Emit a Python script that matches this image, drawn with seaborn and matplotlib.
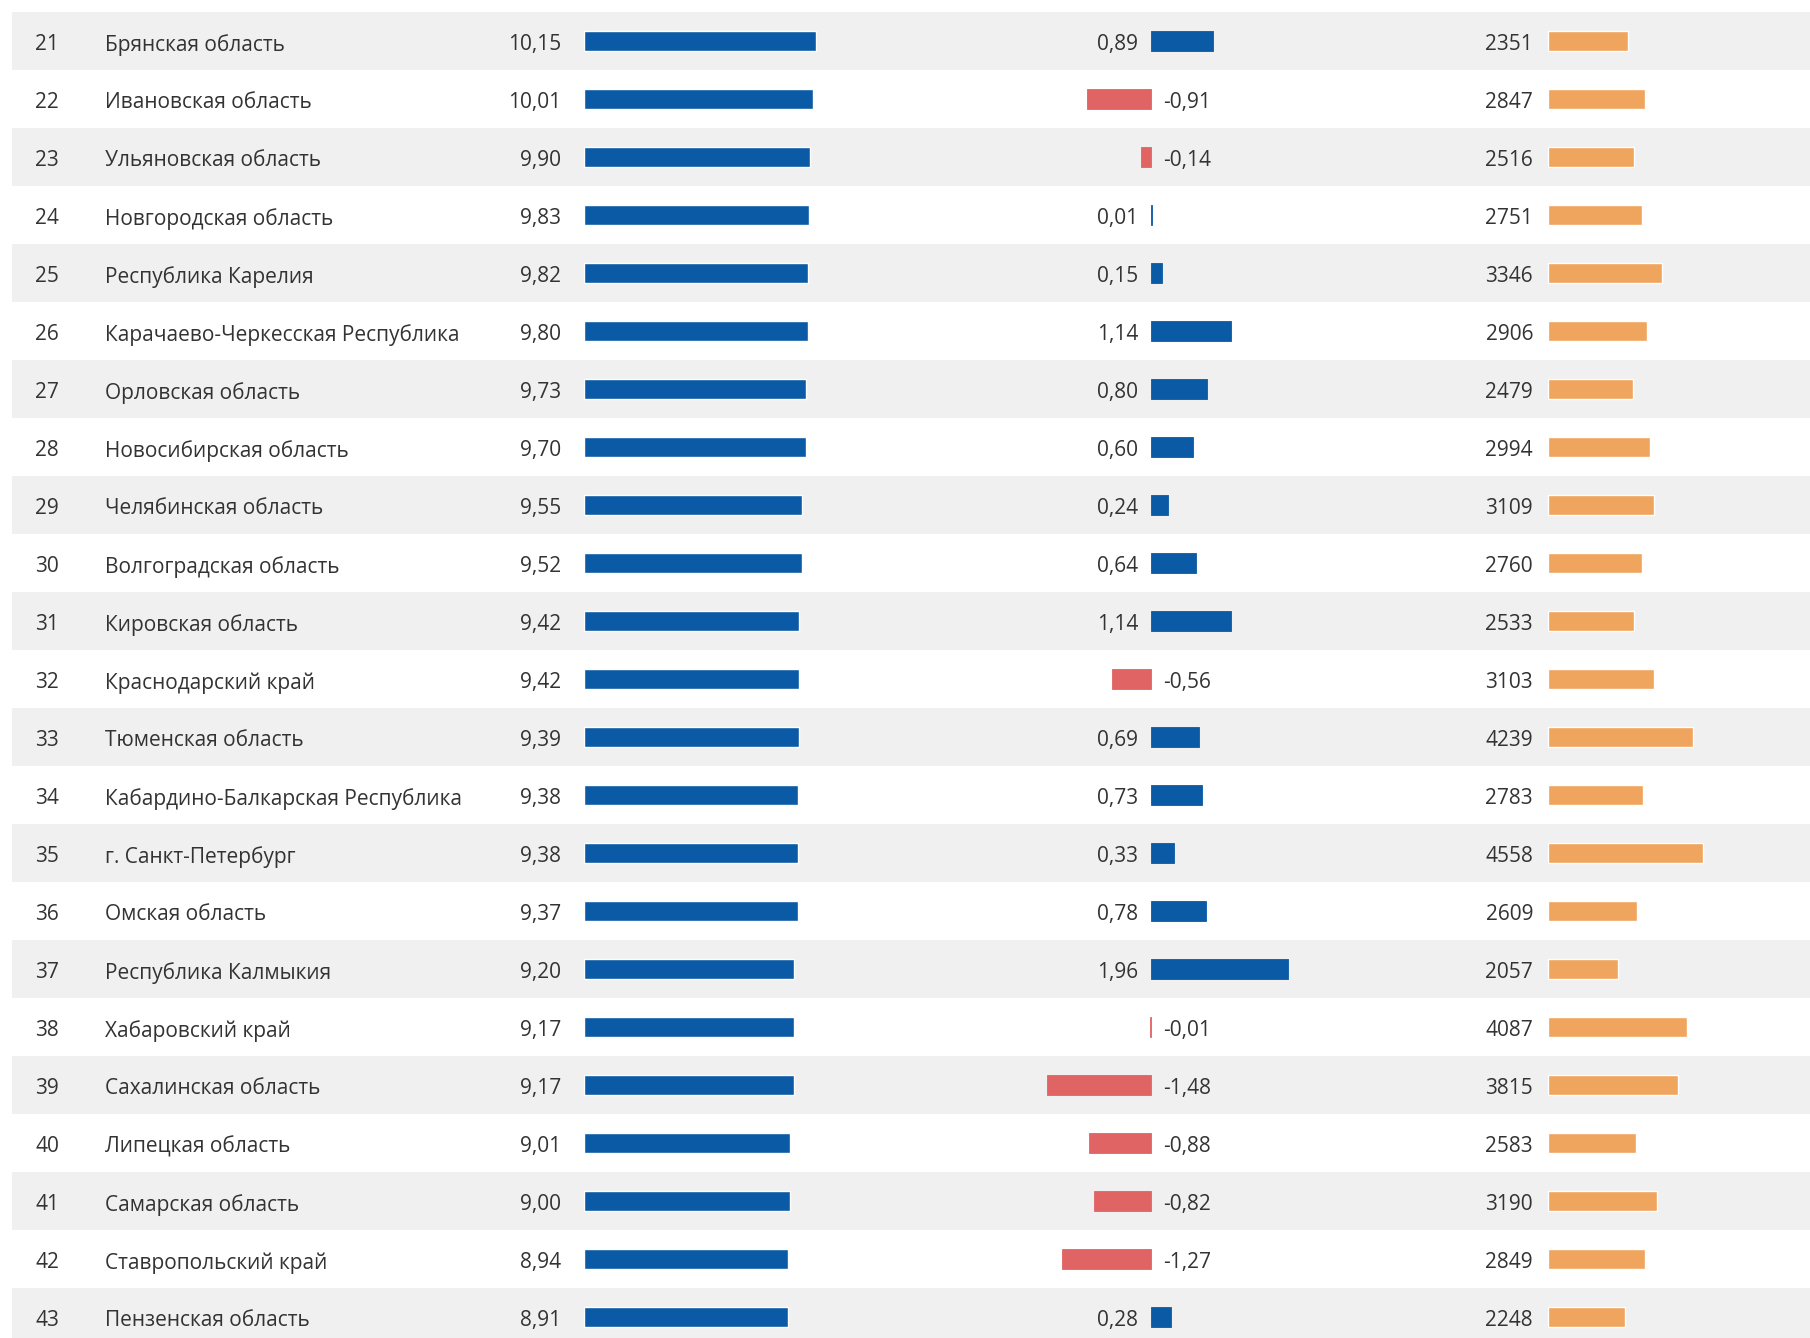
import matplotlib
matplotlib.use("Agg")
import matplotlib.pyplot as plt
import pandas as pd
import seaborn as sns

ranks = list(range(21, 44))
regions = [
    "Брянская область", "Ивановская область", "Ульяновская область",
    "Новгородская область", "Республика Карелия",
    "Карачаево-Черкесская Республика", "Орловская область",
    "Новосибирская область", "Челябинская область", "Волгоградская область",
    "Кировская область", "Краснодарский край", "Тюменская область",
    "Кабардино-Балкарская Республика", "г. Санкт-Петербург", "Омская область",
    "Республика Калмыкия", "Хабаровский край", "Сахалинская область",
    "Липецкая область", "Самарская область", "Ставропольский край",
    "Пензенская область",
]
index_values = [10.15, 10.01, 9.90, 9.83, 9.82, 9.80, 9.73, 9.70, 9.55, 9.52,
                9.42, 9.42, 9.39, 9.38, 9.38, 9.37, 9.20, 9.17, 9.17, 9.01,
                9.00, 8.94, 8.91]
change_values = [0.89, -0.91, -0.14, 0.01, 0.15, 1.14, 0.80, 0.60, 0.24, 0.64,
                 1.14, -0.56, 0.69, 0.73, 0.33, 0.78, 1.96, -0.01, -1.48, -0.88,
                 -0.82, -1.27, 0.28]
salary_values = [2351, 2847, 2516, 2751, 3346, 2906, 2479, 2994, 3109, 2760,
                 2533, 3103, 4239, 2783, 4558, 2609, 2057, 4087, 3815, 2583,
                 3190, 2849, 2248]

BLUE = "#0b5aa6"
RED = "#e06464"
ORANGE = "#efa55d"
BAND = "#f0f0f0"
TEXT = "#333333"

df = pd.DataFrame({
    "rank": ranks,
    "region": regions,
    "index": index_values,
    "change": change_values,
    "salary": salary_values,
})
df["sign"] = ["pos" if v >= 0 else "neg" for v in df["change"]]

W, H, DPI = 1810, 1338, 100
ROW0, ROWH = 41.0, 58.0
n = len(df)
ylim = ((H - ROW0) / ROWH, -ROW0 / ROWH)

sns.set_theme(style="white")
plt.rcParams["font.family"] = ["Open Sans", "DejaVu Sans"]

fig = plt.figure(figsize=(W / DPI, H / DPI), dpi=DPI)
fig.patch.set_facecolor("white")

bg = fig.add_axes([0, 0, 1, 1])
bg.set_xlim(0, W)
bg.set_ylim(*ylim)
bg.axis("off")

FS = 15
DY = 0.065  # small downward nudge so text centres on the bars
for i, row in df.iterrows():
    if i % 2 == 0:
        bg.axhspan(i - 0.5, i + 0.5, xmin=12 / W, xmax=1, color=BAND, lw=0, zorder=0)
    ty = i + DY
    bg.text(35, ty, str(row["rank"]), ha="left", va="center", fontsize=FS, color=TEXT)
    bg.text(105, ty, row["region"], ha="left", va="center", fontsize=FS, color=TEXT)
    bg.text(561, ty, f"{row['index']:.2f}".replace(".", ","), ha="right", va="center",
            fontsize=FS, color=TEXT)
    c = row["change"]
    lab = f"{c:.2f}".replace(".", ",")
    if c >= 0:
        bg.text(1138, ty, lab, ha="right", va="center", fontsize=FS, color=TEXT)
    else:
        bg.text(1163, ty, lab, ha="left", va="center", fontsize=FS, color=TEXT)
    bg.text(1533, ty, str(row["salary"]), ha="right", va="center", fontsize=FS, color=TEXT)


def column_axes(zero_px, px_per_unit):
    ax = fig.add_axes([0, 0, 1, 1])
    ax.patch.set_alpha(0)
    return ax, (-zero_px / px_per_unit, (W - zero_px) / px_per_unit)


BAR_W = 0.33

ax1, xl1 = column_axes(584, 22.86)
sns.barplot(data=df, x="index", y="region", order=regions, orient="h",
            color=BLUE, width=BAR_W, saturation=1, ax=ax1, errorbar=None)
ax1.set_xlim(*xl1)

ax2, xl2 = column_axes(1151, 70.0)
sns.barplot(data=df, x="change", y="region", order=regions, orient="h",
            hue="sign", palette={"pos": BLUE, "neg": RED}, dodge=False,
            width=BAR_W, saturation=1, ax=ax2, errorbar=None, legend=False,
            linewidth=0.6, edgecolor="#c8c8c8")
ax2.set_xlim(*xl2)
for p in ax2.patches:
    p.set_edgecolor(p.get_facecolor())

ax3, xl3 = column_axes(1548, 0.0341)
sns.barplot(data=df, x="salary", y="region", order=regions, orient="h",
            color=ORANGE, width=BAR_W, saturation=1, ax=ax3, errorbar=None)
ax3.set_xlim(*xl3)

for ax in (ax1, ax2, ax3):
    ax.set_ylim(*ylim)
    ax.axis("off")

fig.savefig("out.png", dpi=DPI, facecolor="white")
